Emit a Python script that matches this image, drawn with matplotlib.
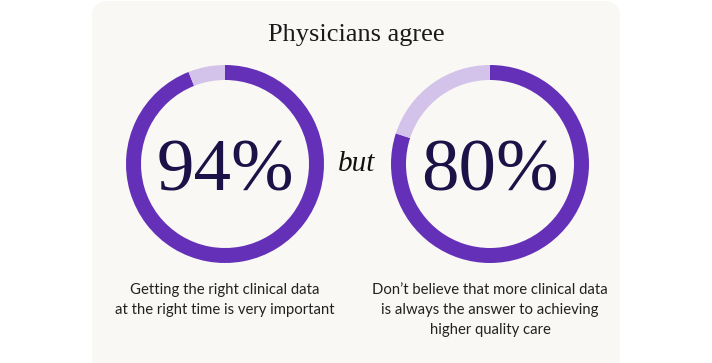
import matplotlib.pyplot as plt
from matplotlib.patches import FancyBboxPatch

# data
values = [94, 80]
labels = ["94%", "80%"]
captions = [
    "Getting the right clinical data\nat the right time is very important",
    "Don\u2019t believe that more clinical data\nis always the answer to achieving\nhigher quality care",
]
title = "Physicians agree"

W, H = 712, 363
dark = "#6530b8"
light = "#d3c3ea"
ink = "#1b1247"

fig = plt.figure(figsize=(W / 100, H / 100), dpi=100)
fig.patch.set_facecolor("white")
ax = fig.add_axes([0, 0, 1, 1])

# card behind everything
card = FancyBboxPatch((92, -40), 528, 40 + H - 1, boxstyle="round,pad=0,rounding_size=16",
                      facecolor="#faf8f4", edgecolor="none", zorder=0)
ax.add_patch(card)

centers_x = [225, 490]
cy = H - 164
for cx, v, lab, cap in zip(centers_x, values, labels, captions):
    ax.pie([v, 100 - v], colors=[dark, light], startangle=90, counterclock=False,
           radius=99, center=(cx, cy), wedgeprops=dict(width=15, edgecolor="none"),
           frame=False)
    ax.text(cx, cy - 9, lab, ha="center", va="center", fontsize=54,
            family="Liberation Serif", color=ink)
    ax.text(cx, H - 283, cap, ha="center", va="top", fontsize=10.7,
            family="Lato", color="#222222", linespacing=1.55)

ax.text(356, H - 35, title, ha="center", va="center", fontsize=19,
        family="Liberation Serif", color="#1a1a1a")
ax.text(357, cy, "but", ha="center", va="center", fontsize=21, style="italic",
        family="Liberation Serif", color="#111111")

ax.set_xlim(0, W)
ax.set_ylim(0, H)
ax.set_aspect("equal")
ax.axis("off")

fig.savefig("out.png", dpi=100, facecolor="white")
